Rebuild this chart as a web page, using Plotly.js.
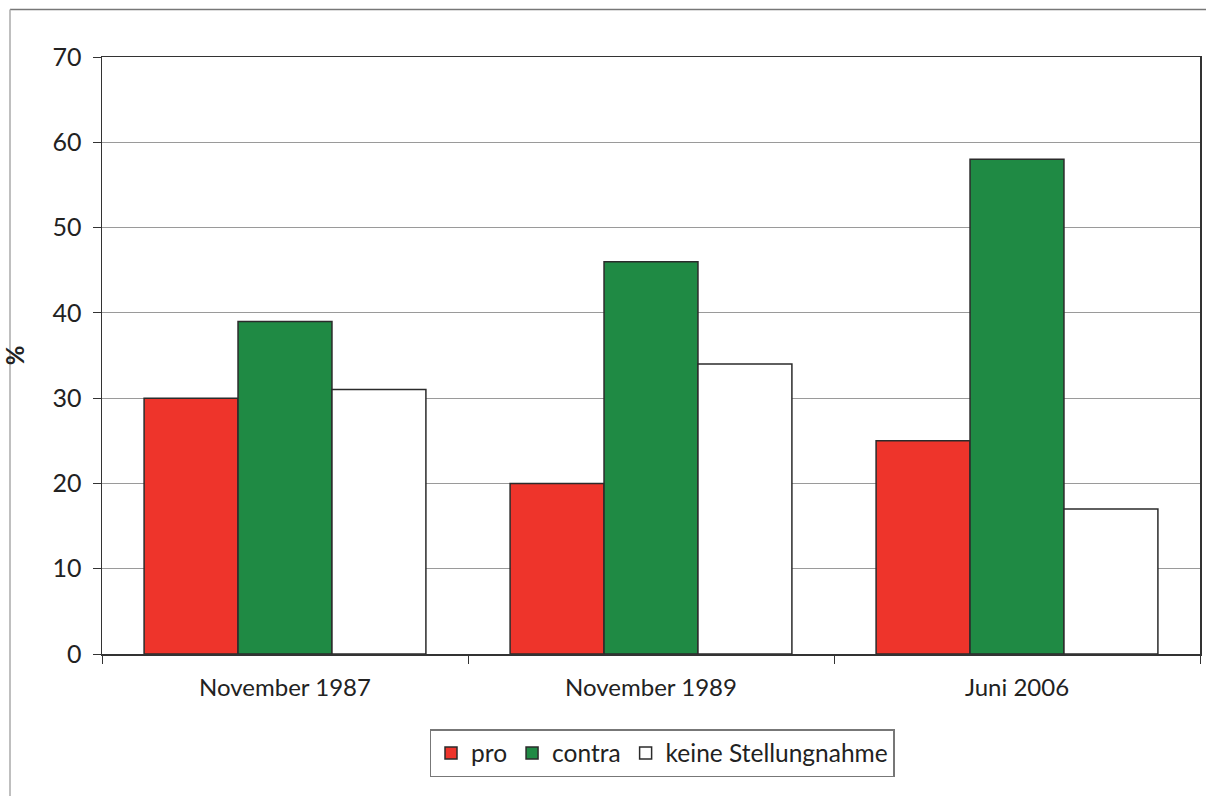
<!DOCTYPE html>
<html><head><meta charset="utf-8">
<script src="https://cdn.plot.ly/plotly-3.0.1.min.js"></script>
<style>html,body{margin:0;padding:0;background:#fff}#chart{width:1206px;height:796px}</style>
</head><body><div id="chart"></div>
<script>
const categories = ["November 1987", "November 1989", "Juni 2006"];
const seriesNames = ["pro", "contra", "keine Stellungnahme"];
const proValues = [30, 20, 25];
const contraValues = [39, 46, 58];
const keineValues = [31, 34, 17];
const yTicks = [0, 10, 20, 30, 40, 50, 60, 70];

const colors = ["#ee342b", "#1f8a44", "#ffffff"];
const allValues = [proValues, contraValues, keineValues];
const traces = allValues.map((v, i) => ({
  type: "bar", name: seriesNames[i], x: categories, y: v,
  marker: {color: colors[i], line: {color: "#2b2b2b", width: 1.5}},
  hoverinfo: "none"
}));

const W = 1206, H = 796, L = 102, R = 6, T = 57, B = 142;
const pw = W - L - R, ph = H - T - B;
const px = x => (x - L) / pw;
const py = y => (H - B - y) / ph;

const layout = {
  width: W, height: H,
  margin: {l: L, r: R, t: T, b: B},
  paper_bgcolor: "#fff", plot_bgcolor: "#fff",
  font: {family: "Lato, 'Open Sans', sans-serif", size: 23, color: "#222"},
  barmode: "group", bargap: 0.23, bargroupgap: 0,
  xaxis: {
    type: "category", tickson: "boundaries", ticks: "outside", ticklen: 8,
    tickcolor: "#333", showline: true, linecolor: "#333", linewidth: 1.5, mirror: true,
    showgrid: false, tickfont: {size: 24}, ticklabelstandoff: 12, fixedrange: true
  },
  yaxis: {
    range: [0, 70], tickvals: yTicks, ticks: "outside", ticklen: 8, tickcolor: "#333",
    showline: true, linecolor: "#333", linewidth: 1.5, mirror: true,
    showgrid: true, gridcolor: "#9a9a9a", gridwidth: 1, zeroline: false,
    tickfont: {size: 25}, ticklabelstandoff: 6,
    title: {text: "<b>%</b>", font: {size: 24}, standoff: 25},
    fixedrange: true
  },
  legend: {
    orientation: "h", x: px(662), xanchor: "center", y: py(729), yanchor: "top",
    bordercolor: "#777", borderwidth: 1.5, bgcolor: "#fff",
    font: {size: 24.5}, itemclick: false
  },
  shapes: [
    {type: "line", xref: "paper", yref: "paper", x0: px(10), x1: px(1206), y0: py(9.5), y1: py(9.5), line: {color: "#777", width: 1.5}},
    {type: "line", xref: "paper", yref: "paper", x0: px(10), x1: px(10), y0: py(9.5), y1: py(796), line: {color: "#aaa", width: 1.5}}
  ]
};
Plotly.newPlot("chart", traces, layout, {staticPlot: true, displayModeBar: false});
</script></body></html>
